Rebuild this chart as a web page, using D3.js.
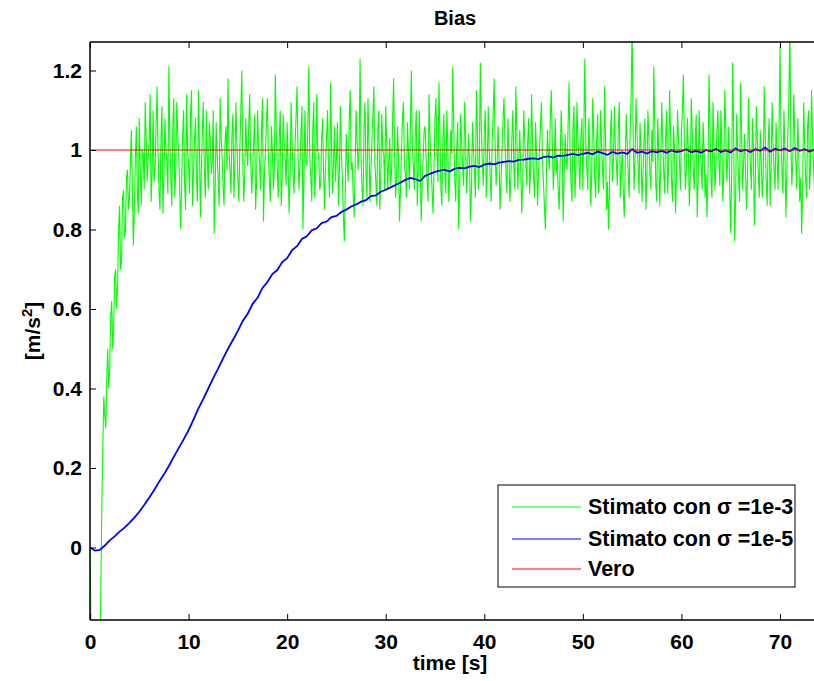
<!DOCTYPE html>
<html><head><meta charset="utf-8">
<script src="https://cdn.jsdelivr.net/npm/d3@7"></script>
<style>body{margin:0;background:#fff}svg{display:block}text{font-family:"Liberation Sans",Arial,sans-serif}</style>
</head><body><svg id="c" width="814" height="681"></svg>
<script>
const title = "Bias";
const xLabel = "time [s]";
const xTicks = [0,10,20,30,40,50,60,70];
const yTicks = [0,0.2,0.4,0.6,0.8,1,1.2];
const seriesNames = ["Stimato con σ =1e-3","Stimato con σ =1e-5","Vero"];
const seriesColors = ["#00ff00","#0000ff","#ff0000"];
// green: sampled every 0.1 s starting at t=0
const greenStep = 0.1;
const greenVals = [
0,-0.2,-0.45,-0.7,-0.9,-0.85,-0.8,-0.75,-0.6,-0.5,-0.35,-0.1,0.1,0.25,0.38,0.33,0.3,0.42,0.5,0.4,
0.45,0.58,0.62,0.5,0.55,0.68,0.7,0.6,0.66,0.8,0.86,0.7,0.72,0.88,0.9,0.78,0.8,0.93,0.95,0.85,
0.88,0.97,1.05,0.9,0.76,0.85,0.98,1.06,0.9,0.84,1.08,0.95,0.86,1.0,0.99,0.9,1.12,1.03,0.92,0.98,
1.02,1.14,0.87,0.94,1.1,0.92,0.95,1.06,1.16,1.0,0.9,0.85,1.03,1.11,0.84,0.93,1.08,1.0,0.97,0.89,
1.21,1.02,0.93,0.86,1.06,1.13,0.88,0.95,1.12,1.04,0.99,0.9,0.80,0.92,1.04,1.1,0.91,0.85,1.14,1.0,
0.96,0.89,1.09,1.15,0.86,0.94,1.02,1.08,0.93,0.87,1.15,1.01,0.83,0.95,1.05,1.12,0.95,0.88,1.1,0.98,
0.9,1.07,1.03,0.94,0.97,1.1,0.79,0.9,1.07,0.99,0.92,0.86,1.13,1.04,0.98,0.91,0.86,1.02,1.06,0.95,
1.18,1.0,0.95,0.89,1.04,1.09,0.88,0.96,1.12,1.02,0.93,0.87,1.0,1.1,1.2,0.97,0.87,0.94,1.08,1.0,
0.96,1.06,1.14,0.98,0.89,0.95,1.02,1.09,0.85,0.92,1.1,1.01,0.97,0.9,1.05,1.13,0.82,0.94,1.0,1.07,
1.13,0.98,0.92,0.87,1.06,1.0,0.9,0.95,1.19,1.05,0.95,0.88,1.03,1.1,0.86,0.93,1.09,1.02,0.98,0.91,
1.07,0.96,0.84,0.93,1.12,1.03,0.94,0.89,1.01,1.08,1.16,0.99,0.9,0.96,1.04,1.11,0.8,0.92,1.1,0.97,
0.96,1.06,1.21,0.98,0.93,0.87,1.05,1.12,0.88,0.95,1.14,1.0,0.99,0.9,0.91,1.03,1.08,0.94,0.85,0.97,
1.03,1.1,0.95,0.88,1.17,1.02,0.89,0.96,1.06,0.92,0.98,1.07,0.86,0.94,1.11,1.0,0.93,0.84,0.77,0.9,
1.04,0.97,0.92,1.08,1.15,0.95,0.97,0.89,0.83,0.96,1.1,1.02,0.95,1.0,1.23,0.98,0.9,0.86,1.06,1.12,
0.94,0.88,1.13,1.02,0.87,0.95,1.02,1.09,1.16,0.97,0.92,0.86,1.05,1.1,0.85,0.93,1.09,1.0,0.99,0.9,
1.11,1.02,0.9,0.97,1.03,0.91,0.95,1.07,1.18,1.0,0.88,0.93,1.06,0.98,0.82,0.9,1.0,1.08,1.12,0.96,
0.94,0.88,1.07,1.0,0.9,1.05,1.2,1.01,0.96,0.9,1.04,1.1,0.86,0.95,1.1,0.97,0.82,0.91,0.98,1.05,
1.06,0.98,0.92,0.87,1.14,1.03,0.96,0.9,0.84,0.95,1.08,1.13,0.99,0.92,1.17,1.04,0.9,0.86,1.03,1.09,
0.95,0.89,1.1,1.01,0.87,0.94,1.05,0.99,1.21,1.06,0.93,0.87,1.0,1.07,0.8,0.9,1.09,1.02,0.96,0.91,
1.12,1.03,0.89,0.95,1.04,0.97,0.82,0.9,1.07,1.0,0.95,0.88,1.15,1.05,0.9,0.97,1.22,1.06,0.97,0.91,
1.05,1.1,0.88,0.95,1.11,1.0,0.93,0.87,1.02,1.09,1.18,1.01,0.91,0.96,1.06,0.98,0.85,0.92,1.0,1.08,
1.13,1.02,0.94,0.89,1.08,1.0,0.87,0.93,1.03,1.1,0.96,0.9,1.16,1.05,0.9,0.97,1.05,0.95,0.84,0.92,
1.1,1.03,0.97,0.91,1.02,1.08,0.89,0.95,1.14,1.01,0.93,0.88,1.07,0.99,0.86,0.94,1.0,1.06,1.12,0.98,
0.92,0.86,0.8,0.93,1.05,0.99,0.95,1.08,1.15,1.02,0.9,0.96,1.08,0.94,0.98,0.9,0.85,0.97,1.1,1.03,
0.82,0.93,1.04,0.98,0.95,1.06,1.17,1.0,0.91,0.87,1.06,1.11,0.88,0.96,1.12,1.03,0.97,0.9,1.03,1.08,
0.9,1.05,1.23,1.02,0.96,0.9,1.08,1.0,0.86,0.94,1.13,1.04,0.93,0.88,1.02,1.09,0.89,0.95,1.1,1.01,
0.95,0.9,1.16,1.03,0.85,0.92,0.8,0.9,1.04,1.1,0.92,0.97,1.11,1.0,0.97,0.91,1.06,1.12,0.88,0.95,
1.0,0.9,0.83,0.96,1.09,1.02,0.94,0.88,1.05,1.14,1.32,1.05,0.9,0.98,1.13,1.04,0.96,0.89,1.07,1.0,
0.87,0.94,1.02,1.08,0.85,0.93,1.1,1.03,0.94,0.9,1.05,0.97,1.21,1.06,0.91,0.87,1.08,1.0,0.86,0.95,
1.12,1.02,0.95,0.89,1.03,1.1,0.89,0.96,1.15,1.04,0.92,0.87,1.06,1.0,0.84,0.93,1.1,1.03,0.97,0.9,
1.04,1.1,1.19,1.02,0.9,0.95,1.08,1.0,0.86,0.93,1.13,1.05,0.95,0.9,1.02,1.09,0.83,0.92,1.1,1.0,
0.96,0.9,1.07,1.0,0.88,0.94,0.83,0.95,1.19,1.06,0.93,0.88,1.12,1.02,0.9,0.96,1.05,1.1,0.97,0.91,
1.1,1.01,0.87,0.95,1.15,1.06,0.92,0.98,1.06,0.9,0.79,0.95,1.22,1.04,0.77,0.88,1.09,1.0,0.93,0.87,
1.17,1.05,0.9,0.96,1.04,0.95,0.85,0.93,1.13,1.02,0.96,0.9,1.08,1.0,0.81,0.92,1.11,1.03,0.94,0.88,
1.05,0.97,0.88,0.94,1.16,1.04,0.92,0.86,1.02,1.08,0.86,0.95,1.12,1.01,0.95,0.9,1.07,0.99,0.9,1.03,
1.26,1.05,0.94,0.89,1.1,1.0,0.83,0.95,1.05,1.12,1.33,1.02,0.91,0.97,1.14,1.03,0.97,0.9,1.08,1.0,
0.87,0.93,0.79,0.9,1.12,1.02,0.93,0.88,1.06,1.1,0.9,0.96,1.15,1.03,0.96,0.9,1.02,1.07,0.89,0.95
];
// blue: sampled every 0.5 s starting at t=0
const blueStep = 0.5;
const blueVals = [
0,-0.008,-0.006,0.005,0.018,0.028,0.04,0.05,0.062,0.075,
0.09,0.107,0.125,0.144,0.165,0.184,0.205,0.228,0.25,0.272,
0.295,0.322,0.35,0.374,0.40,0.426,0.45,0.476,0.50,0.522,
0.545,0.57,0.588,0.613,0.628,0.653,0.668,0.688,0.698,0.718,
0.728,0.748,0.758,0.776,0.783,0.798,0.803,0.816,0.82,0.831,
0.834,0.844,0.85,0.858,0.863,0.87,0.874,0.884,0.886,0.895,
0.90,0.906,0.912,0.918,0.925,0.93,0.927,0.922,0.935,0.94,
0.945,0.948,0.95,0.946,0.953,0.955,0.954,0.958,0.96,0.957,
0.963,0.966,0.964,0.968,0.97,0.972,0.971,0.975,0.976,0.978,
0.979,0.977,0.982,0.984,0.981,0.986,0.985,0.988,0.99,0.987,
0.99,0.993,0.989,0.996,0.992,0.988,0.995,0.991,0.994,0.99,
1.002,0.993,0.996,0.991,0.997,0.994,0.998,0.993,0.999,0.995,
0.997,1.002,0.994,0.998,0.993,1.0,0.996,1.003,0.995,0.999,
0.994,1.004,0.997,1.001,0.995,1.002,0.998,1.006,0.996,1.003,
0.999,1.004,0.997,1.005,0.998,1.002,0.996,1.001
];
const trueVal = 1;
const xDomain = [0, 75];
const yDomain = [-0.1824, 1.2717];

const svg = d3.select("#c");
const L = 90, T = 42, B = 620, R = 814;
const x = d3.scaleLinear().domain(xDomain).range([L, L + 75 * 9.857]);
const y = d3.scaleLinear().domain(yDomain).range([B, T]);

svg.append("defs").append("clipPath").attr("id","clip")
  .append("rect").attr("x",L).attr("y",T).attr("width",R-L).attr("height",B-T);

const g = svg.append("g").attr("clip-path","url(#clip)");
const line = d3.line().x(d=>x(d[0])).y(d=>y(d[1]));
const green = greenVals.map((v,i)=>[i*greenStep, v]);
const blue = blueVals.map((v,i)=>[i*blueStep, v]);
g.append("path").attr("d", line(green)).attr("fill","none").attr("stroke",seriesColors[0]).attr("stroke-width",1.1);
g.append("path").attr("d", line(blue)).attr("fill","none").attr("stroke",seriesColors[1]).attr("stroke-width",1.8);
g.append("path").attr("d", line([[xDomain[0],trueVal],[xDomain[1],trueVal]])).attr("fill","none").attr("stroke",seriesColors[2]).attr("stroke-width",1.2);

// axes
const fmt = d3.format("~g");
const xb = svg.append("g").attr("transform",`translate(0,${B})`)
  .call(d3.axisBottom(x).tickValues(xTicks).tickSize(-6).tickPadding(14).tickFormat(fmt));
const xt = svg.append("g").attr("transform",`translate(0,${T})`)
  .call(d3.axisTop(x).tickValues(xTicks).tickSize(-6).tickFormat(""));
const yl = svg.append("g").attr("transform",`translate(${L},0)`)
  .call(d3.axisLeft(y).tickValues(yTicks).tickSize(-6).tickPadding(8).tickFormat(fmt));
[xb,xt,yl].forEach(a=>{
  a.select(".domain").remove();
  a.selectAll("line").attr("stroke","#000").attr("stroke-width",1);
  a.selectAll("text").attr("fill","#000").style("font-size","21px").style("font-weight","bold");
});
svg.append("line").attr("x1",L).attr("x2",R).attr("y1",B).attr("y2",B).attr("stroke","#000").attr("stroke-width",1.5);
svg.append("line").attr("x1",L).attr("x2",R).attr("y1",T).attr("y2",T).attr("stroke","#000").attr("stroke-width",1.5);
svg.append("line").attr("x1",L).attr("x2",L).attr("y1",T).attr("y2",B).attr("stroke","#000").attr("stroke-width",1.5);

// title and labels
svg.append("text").attr("x",455).attr("y",25).attr("text-anchor","middle")
  .style("font-size","20px").style("font-weight","bold").text(title);
svg.append("text").attr("x",450).attr("y",670).attr("text-anchor","middle")
  .style("font-size","21px").style("font-weight","bold").text(xLabel);
const yt = svg.append("text").attr("transform","translate(40,331) rotate(-90)").attr("text-anchor","middle")
  .style("font-size","21px").style("font-weight","bold");
yt.append("tspan").text("[m/s");
yt.append("tspan").attr("dy",-8).style("font-size","15px").text("2");
yt.append("tspan").attr("dy",8).text("]");

// legend
const lg = svg.append("g");
lg.append("rect").attr("x",498).attr("y",485).attr("width",297).attr("height",102)
  .attr("fill","#fff").attr("stroke","#000").attr("stroke-width",1);
const rows = [507,539,569];
seriesNames.forEach((n,i)=>{
  lg.append("line").attr("x1",512).attr("x2",581).attr("y1",rows[i]).attr("y2",rows[i])
    .attr("stroke",seriesColors[i]).attr("stroke-width",1.2);
  lg.append("text").attr("x",588).attr("y",rows[i]+7)
    .style("font-size","21.5px").style("font-weight","bold").text(n);
});
</script></body></html>
